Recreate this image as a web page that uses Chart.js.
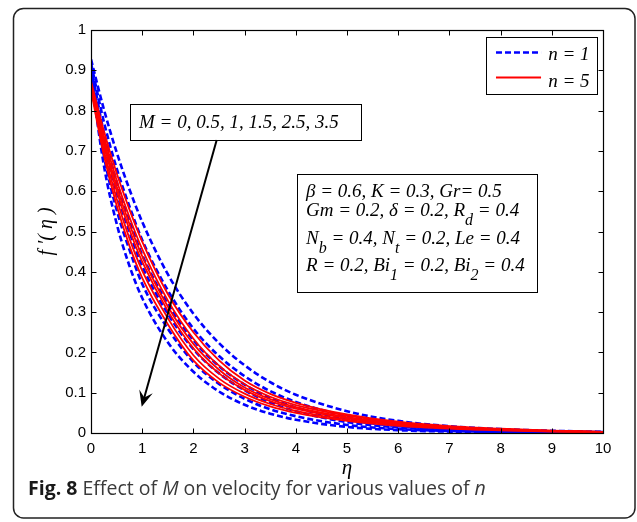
<!DOCTYPE html>
<html>
<head>
<meta charset="utf-8">
<script src="https://cdn.jsdelivr.net/npm/chart.js@4/dist/chart.umd.min.js"></script>
<style>
html,body{margin:0;padding:0;background:#fff;}
#wrap{position:relative;width:637px;height:522px;}
</style>
</head>
<body>
<div id="wrap"><canvas id="c" width="637" height="522"></canvas></div>
<script>
// eta grid (x values)
const eta = [0, 0.25, 0.5, 0.75, 1, 1.5, 2, 2.5, 3, 3.5, 4, 5, 6, 7, 8, 9, 10];
const mValues = ['0', '0.5', '1', '1.5', '2.5', '3.5'];
const xTicks = [0, 1, 2, 3, 4, 5, 6, 7, 8, 9, 10];
const yTicks = [0, 0.1, 0.2, 0.3, 0.4, 0.5, 0.6, 0.7, 0.8, 0.9, 1];

// n = 1 (blue dashed), M = 0 ... 3.5
const n1_M0  = [0.927, 0.804, 0.697, 0.605, 0.524, 0.394, 0.296, 0.223, 0.168, 0.126, 0.095, 0.054, 0.030, 0.017, 0.0097, 0.0055, 0.003];
const n1_M05 = [0.918, 0.773, 0.657, 0.563, 0.479, 0.354, 0.259, 0.191, 0.141, 0.104, 0.077, 0.042, 0.022, 0.0124, 0.007, 0.004, 0.0021];
const n1_M1  = [0.911, 0.746, 0.624, 0.527, 0.442, 0.321, 0.230, 0.166, 0.120, 0.087, 0.0635, 0.033, 0.017, 0.0093, 0.0052, 0.0029, 0.0015];
const n1_M15 = [0.905, 0.724, 0.597, 0.499, 0.414, 0.296, 0.208, 0.148, 0.106, 0.0756, 0.054, 0.027, 0.0139, 0.0073, 0.004, 0.0022, 0.0012];
const n1_M25 = [0.894, 0.689, 0.554, 0.455, 0.370, 0.259, 0.176, 0.122, 0.085, 0.059, 0.0417, 0.020, 0.0096, 0.0051, 0.0026, 0.0014, 0.0007];
const n1_M35 = [0.885, 0.665, 0.520, 0.415, 0.335, 0.225, 0.152, 0.103, 0.070, 0.048, 0.033, 0.015, 0.007, 0.0035, 0.0018, 0.001, 0.0005];

// n = 5 (red solid), M = 0 ... 3.5
const n5_M0  = [0.873, 0.750, 0.645, 0.555, 0.475, 0.345, 0.250, 0.180, 0.130, 0.097, 0.075, 0.046, 0.028, 0.017, 0.0105, 0.006, 0.003];
const n5_M05 = [0.868, 0.737, 0.628, 0.536, 0.456, 0.329, 0.234, 0.167, 0.121, 0.090, 0.069, 0.043, 0.026, 0.016, 0.0097, 0.0055, 0.0027];
const n5_M1  = [0.864, 0.726, 0.613, 0.519, 0.439, 0.314, 0.221, 0.157, 0.113, 0.084, 0.064, 0.0395, 0.024, 0.0144, 0.009, 0.005, 0.0025];
const n5_M15 = [0.861, 0.717, 0.601, 0.505, 0.425, 0.303, 0.210, 0.148, 0.107, 0.079, 0.0605, 0.037, 0.022, 0.0135, 0.0084, 0.0047, 0.0023];
const n5_M25 = [0.855, 0.703, 0.582, 0.483, 0.403, 0.285, 0.193, 0.135, 0.0976, 0.072, 0.0547, 0.033, 0.0204, 0.0122, 0.0074, 0.0042, 0.0021];
const n5_M35 = [0.850, 0.690, 0.565, 0.465, 0.385, 0.270, 0.180, 0.125, 0.090, 0.066, 0.050, 0.030, 0.018, 0.011, 0.0065, 0.0037, 0.0018];

const blueSeries = [n1_M0, n1_M05, n1_M1, n1_M15, n1_M25, n1_M35];
const redSeries  = [n5_M0, n5_M05, n5_M1, n5_M15, n5_M25, n5_M35];
const toPts = arr => eta.map((x, i) => ({x: x, y: arr[i]}));

const datasets = [];
redSeries.forEach((s, i) => datasets.push({
  label: 'n = 5, M = ' + mValues[i], data: toPts(s),
  borderColor: '#ff0000', borderWidth: 1.8, pointRadius: 0,
  cubicInterpolationMode: 'monotone', fill: false
}));
blueSeries.forEach((s, i) => datasets.push({
  label: 'n = 1, M = ' + mValues[i], data: toPts(s),
  borderColor: '#0000ff', borderWidth: 2.6, borderDash: [6, 3], pointRadius: 0,
  cubicInterpolationMode: 'monotone', fill: false
}));

const SERIF = '"Liberation Serif", "Times New Roman", serif';

function drawRich(ctx, x, y, parts, size, subSize) {
  let cx = x;
  parts.forEach(p => {
    if (p[1]) {
      ctx.font = 'italic ' + subSize + 'px ' + SERIF;
      ctx.fillText(p[0], cx, y + 9);
    } else {
      ctx.font = 'italic ' + size + 'px ' + SERIF;
      ctx.fillText(p[0], cx, y);
    }
    cx += ctx.measureText(p[0]).width;
  });
}

const deco = {
  id: 'deco',
  beforeDraw(chart) {
    const ctx = chart.ctx;
    ctx.save();
    ctx.fillStyle = '#fff';
    ctx.fillRect(0, 0, chart.width, chart.height);
    ctx.restore();
  },
  afterDraw(chart) {
    const ctx = chart.ctx;
    const xs = chart.scales.x, ys = chart.scales.y;
    const a = chart.chartArea;
    const X = v => xs.getPixelForValue(v);
    const Y = v => ys.getPixelForValue(v);
    ctx.save();
    // axes box
    ctx.strokeStyle = '#000';
    ctx.lineWidth = 1.2;
    const L = Math.round(a.left) + 0.5, R = Math.round(a.right) + 0.5;
    const T = Math.round(a.top) + 0.5, B = Math.round(a.bottom) + 0.5;
    ctx.strokeRect(L, T, R - L, B - T);
    // inward ticks
    const tl = 5;
    ctx.lineWidth = 1;
    ctx.beginPath();
    xTicks.forEach(v => {
      const px = Math.round(X(v)) + 0.5;
      ctx.moveTo(px, B); ctx.lineTo(px, B - tl);
      ctx.moveTo(px, T); ctx.lineTo(px, T + tl);
    });
    yTicks.forEach(v => {
      const py = Math.round(Y(v)) + 0.5;
      ctx.moveTo(L, py); ctx.lineTo(L + tl, py);
      ctx.moveTo(R, py); ctx.lineTo(R - tl, py);
    });
    ctx.stroke();

    // axis titles
    ctx.fillStyle = '#000';
    ctx.font = 'italic 21px ' + SERIF;
    ctx.textAlign = 'center';
    ctx.textBaseline = 'alphabetic';
    ctx.fillText('η', (a.left + a.right) / 2, 474);
    ctx.save();
    ctx.translate(52, (a.top + a.bottom) / 2);
    ctx.rotate(-Math.PI / 2);
    ctx.font = 'italic 20px ' + SERIF;
    ctx.fillText('f ′( η )', 0, 0);
    ctx.restore();

    // legend
    ctx.textAlign = 'left';
    const lx0 = X(7.715), lx1 = X(9.883), ly0 = Y(0.983), ly1 = Y(0.841);
    ctx.fillStyle = '#fff';
    ctx.fillRect(lx0, ly0, lx1 - lx0, ly1 - ly0);
    ctx.strokeStyle = '#000'; ctx.lineWidth = 1;
    ctx.strokeRect(Math.round(lx0) + 0.5, Math.round(ly0) + 0.5, Math.round(lx1 - lx0), Math.round(ly1 - ly0));
    ctx.lineWidth = 2.6; ctx.strokeStyle = '#0000ff'; ctx.setLineDash([6, 3]);
    ctx.beginPath(); ctx.moveTo(X(7.91), Y(0.944)); ctx.lineTo(X(8.79), Y(0.944)); ctx.stroke();
    ctx.setLineDash([]); ctx.strokeStyle = '#ff0000'; ctx.lineWidth = 2;
    ctx.beginPath(); ctx.moveTo(X(7.91), Y(0.882)); ctx.lineTo(X(8.79), Y(0.882)); ctx.stroke();
    ctx.fillStyle = '#000';
    ctx.font = 'italic 19px ' + SERIF;
    ctx.fillText('n = 1', X(8.93), Y(0.926));
    ctx.fillText('n = 5', X(8.93), Y(0.859));

    // annotation box 1
    const b1x0 = X(0.762), b1x1 = X(5.273), b1y0 = Y(0.816), b1y1 = Y(0.727);
    ctx.fillStyle = '#fff';
    ctx.fillRect(b1x0, b1y0, b1x1 - b1x0, b1y1 - b1y0);
    ctx.strokeStyle = '#000'; ctx.lineWidth = 1;
    ctx.strokeRect(Math.round(b1x0) + 0.5, Math.round(b1y0) + 0.5, Math.round(b1x1 - b1x0), Math.round(b1y1 - b1y0));
    ctx.fillStyle = '#000';
    ctx.font = 'italic 19px ' + SERIF;
    ctx.fillText('M = 0, 0.5, 1, 1.5, 2.5, 3.5', X(0.9375), Y(0.7568));

    // arrow
    const ax0 = X(2.455), ay0 = Y(0.727), ax1 = X(0.99), ay1 = Y(0.065);
    const ang = Math.atan2(ay1 - ay0, ax1 - ax0);
    ctx.strokeStyle = '#000'; ctx.lineWidth = 2;
    ctx.beginPath(); ctx.moveTo(ax0, ay0);
    ctx.lineTo(ax1 - 8 * Math.cos(ang), ay1 - 8 * Math.sin(ang)); ctx.stroke();
    const hl = 16, hw = 7;
    const bx = ax1 - hl * Math.cos(ang), by = ay1 - hl * Math.sin(ang);
    const nx = -Math.sin(ang), ny = Math.cos(ang);
    const ix = ax1 - (hl * 0.6) * Math.cos(ang), iy = ay1 - (hl * 0.6) * Math.sin(ang);
    ctx.fillStyle = '#000';
    ctx.beginPath();
    ctx.moveTo(ax1, ay1);
    ctx.lineTo(bx + nx * hw, by + ny * hw);
    ctx.lineTo(ix, iy);
    ctx.lineTo(bx - nx * hw, by - ny * hw);
    ctx.closePath(); ctx.fill();

    // annotation box 2
    const b2x0 = X(4.033), b2x1 = X(8.73), b2y0 = Y(0.642), b2y1 = Y(0.349);
    ctx.fillStyle = '#fff';
    ctx.fillRect(b2x0, b2y0, b2x1 - b2x0, b2y1 - b2y0);
    ctx.strokeStyle = '#000'; ctx.lineWidth = 1;
    ctx.strokeRect(Math.round(b2x0) + 0.5, Math.round(b2y0) + 0.5, Math.round(b2x1 - b2x0), Math.round(b2y1 - b2y0));
    ctx.fillStyle = '#000';
    const tx = X(4.2);
    drawRich(ctx, tx, Y(0.5856), [['β = 0.6, K = 0.3, Gr= 0.5', false]], 19, 16);
    drawRich(ctx, tx, Y(0.5385), [['Gm = 0.2, δ = 0.2, R', false], ['d', true], [' = 0.4', false]], 19, 16);
    drawRich(ctx, tx, Y(0.469), [['N', false], ['b', true], [' = 0.4, N', false], ['t', true], [' = 0.2, Le = 0.4', false]], 19, 16);
    drawRich(ctx, tx, Y(0.402), [['R = 0.2, Bi', false], ['1', true], [' = 0.2, Bi', false], ['2', true], [' = 0.4', false]], 19, 16);

    // outer frame
    ctx.strokeStyle = '#222'; ctx.lineWidth = 1.5;
    ctx.beginPath();
    ctx.roundRect(13.5, 8.5, 621.5, 509.5, 10);
    ctx.stroke();

    // caption
    let cx = 28;
    const cy = 495;
    const cap = [['Fig. 8', 'bold', '#1a1a1a'], [' Effect of ', 'normal', '#3a3a3a'], ['M', 'italic', '#3a3a3a'], [' on velocity for various values of ', 'normal', '#3a3a3a'], ['n', 'italic', '#3a3a3a']];
    cap.forEach(p => {
      ctx.font = (p[1] === 'normal' ? '' : p[1] + ' ') + '19.5px "Open Sans", sans-serif';
      ctx.fillStyle = p[2];
      ctx.fillText(p[0], cx, cy);
      cx += ctx.measureText(p[0]).width;
    });
    ctx.restore();
  }
};

new Chart(document.getElementById('c'), {
  type: 'line',
  data: {datasets: datasets},
  options: {
    responsive: false,
    animation: false,
    devicePixelRatio: 1,
    layout: {padding: {left: 0, top: 30, right: 34, bottom: 0}},
    plugins: {legend: {display: false}, tooltip: {enabled: false}},
    scales: {
      x: {
        type: 'linear', min: 0, max: 10,
        afterBuildTicks: s => { s.ticks = xTicks.map(v => ({value: v})); },
        afterFit: s => { s.height = 89; },
        grid: {display: false, drawTicks: false},
        border: {display: false},
        ticks: {color: '#000', font: {family: 'Liberation Sans', size: 15}, padding: 7, maxRotation: 0,
                callback: v => String(v)}
      },
      y: {
        type: 'linear', min: 0, max: 1,
        afterBuildTicks: s => { s.ticks = yTicks.map(v => ({value: v})); },
        afterFit: s => { s.width = 91; },
        grid: {display: false, drawTicks: false},
        border: {display: false},
        ticks: {color: '#000', font: {family: 'Liberation Sans', size: 15}, padding: 5,
                callback: v => String(Math.round(v * 10) / 10)}
      }
    }
  },
  plugins: [deco]
});
</script>
</body>
</html>
